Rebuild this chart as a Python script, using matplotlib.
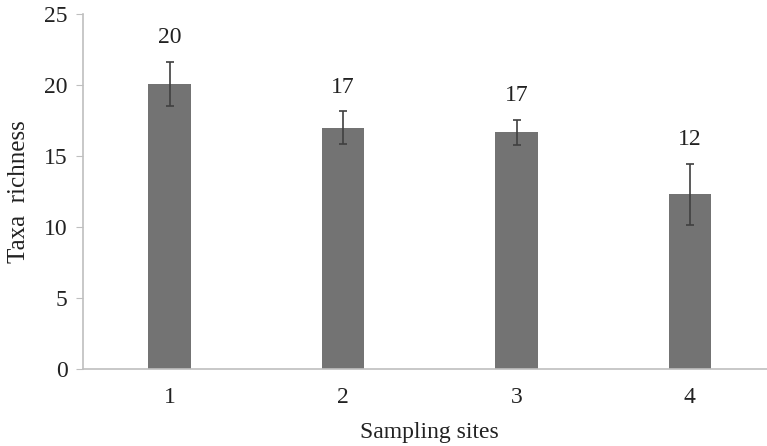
import matplotlib
matplotlib.use("Agg")
import matplotlib.pyplot as plt
import numpy as np

sites = ["1", "2", "3", "4"]
richness = [20.1, 17.0, 16.7, 12.3]
errors = [1.55, 1.15, 0.88, 2.18]
labels = ["20", "17", "17", "12"]

plt.rcParams['font.family'] = ['Liberation Serif', 'DejaVu Serif']

fig = plt.figure(figsize=(7.67, 4.46), dpi=100)
W, H = 767, 446
left, right, top, bottom = 83, 776.6, 14.3, 369
ax = fig.add_axes([left / W, 1 - bottom / H, (right - left) / W, (bottom - top) / H])

x = np.arange(1, len(sites) + 1)
ax.bar(x, richness, width=0.246, color="#737373", zorder=2)
ax.errorbar(x, richness, yerr=errors, fmt="none", ecolor="#404040",
            elinewidth=1.2, capsize=3, capthick=1.2, zorder=3)
for xi, v, e, lab in zip(x, richness, errors, labels):
    ax.annotate(lab, (xi, v + e), xytext=(0, 10), textcoords="offset points",
                ha="center", va="bottom", fontsize=17, color="#222222")

ax.set_xlim(0.5, 4.5)
ax.set_ylim(0, 25)
ax.set_yticks([0, 5, 10, 15, 20, 25])
ax.set_xticks(x)
ax.set_xticklabels(sites)
ax.tick_params(axis="y", length=5, color="#bfbfbf", labelsize=17, labelcolor="#222222", pad=6)
ax.tick_params(axis="x", length=0, labelsize=17, labelcolor="#222222", pad=13)
for s in ["top", "right"]:
    ax.spines[s].set_visible(False)
for s in ["left", "bottom"]:
    ax.spines[s].set_color("#bfbfbf")
    ax.spines[s].set_linewidth(1.2)
ax.set_ylabel("Taxa  richness", fontsize=18, color="#222222", labelpad=10)
ax.set_xlabel("Sampling sites", fontsize=17, color="#222222", labelpad=10)

fig.savefig("out.png", dpi=100)
